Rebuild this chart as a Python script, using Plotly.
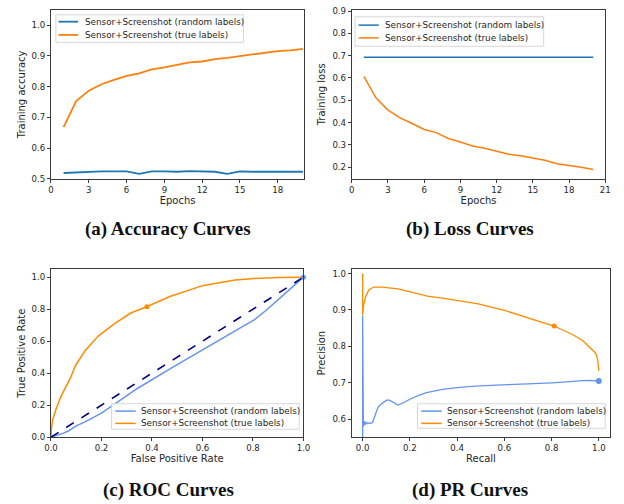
import plotly.graph_objects as go

# ---------------- data ----------------
epochs = list(range(1, 21))
acc_true = [0.668, 0.753, 0.787, 0.808, 0.822, 0.835, 0.843, 0.856, 0.863, 0.872,
            0.879, 0.882, 0.890, 0.894, 0.900, 0.904, 0.910, 0.916, 0.918, 0.923]
acc_rand = [0.519, 0.521, 0.523, 0.524, 0.524, 0.524, 0.516, 0.524, 0.524, 0.523,
            0.525, 0.525, 0.523, 0.516, 0.524, 0.523, 0.523, 0.524, 0.525, 0.523]
loss_true = [0.607, 0.511, 0.456, 0.421, 0.396, 0.369, 0.355, 0.329, 0.313, 0.295,
             0.285, 0.273, 0.258, 0.251, 0.240, 0.231, 0.216, 0.209, 0.200, 0.190]
loss_rand = [0.693, 0.693, 0.693, 0.693, 0.693, 0.693, 0.693, 0.693, 0.693, 0.693,
             0.693, 0.693, 0.693, 0.693, 0.693, 0.693, 0.693, 0.693, 0.693, 0.693]

roc_true_fpr = [0, 0.002, 0.007, 0.019, 0.039, 0.058, 0.077, 0.097, 0.135, 0.187, 0.252,
                0.316, 0.381, 0.471, 0.6, 0.729, 0.806, 0.9, 1.0]
roc_true_tpr = [0, 0.06, 0.109, 0.171, 0.253, 0.314, 0.37, 0.448, 0.54, 0.632, 0.71,
                0.776, 0.817, 0.879, 0.947, 0.982, 0.992, 0.998, 1.0]
roc_rand_fpr = [0, 0.02, 0.05, 0.07, 0.1, 0.135, 0.2, 0.25, 0.342, 0.471, 0.6, 0.729,
                0.806, 0.85, 0.897, 0.95, 1.0]
roc_rand_tpr = [0, 0.01, 0.025, 0.04, 0.07, 0.095, 0.15, 0.205, 0.304, 0.427, 0.544,
                0.663, 0.735, 0.79, 0.858, 0.93, 1.0]
roc_true_pt = (0.38, 0.815)
roc_rand_pt = (1.0, 1.0)
chance = [0, 1]

pr_true_rec = [0, 0, 0.003, 0.012, 0.026, 0.047, 0.081, 0.15, 0.219, 0.274, 0.33, 0.407,
               0.49, 0.6, 0.683, 0.76, 0.811, 0.89, 0.93, 0.959, 0.986, 0.995, 1.0]
pr_true_prec = [1.0, 0.886, 0.91, 0.935, 0.955, 0.963, 0.963, 0.958, 0.946, 0.938, 0.933,
                0.926, 0.917, 0.899, 0.881, 0.866, 0.856, 0.832, 0.817, 0.800, 0.782,
                0.765, 0.733]
pr_rand_rec = [0, 0, 0.001, 0.002, 0.003, 0.006, 0.01, 0.015, 0.02, 0.028, 0.035, 0.042,
               0.048, 0.055, 0.065, 0.075, 0.09, 0.103, 0.115, 0.13, 0.15, 0.175, 0.2,
               0.235, 0.27, 0.338, 0.4, 0.476, 0.55, 0.614, 0.7, 0.752, 0.8, 0.85, 0.89,
               0.93, 0.96, 0.985, 1.0]
pr_rand_prec = [0.5, 0.885, 0.60, 0.67, 0.58, 0.595, 0.585, 0.592, 0.588, 0.59, 0.589,
                0.591, 0.60, 0.615, 0.633, 0.64, 0.647, 0.653, 0.652, 0.647, 0.639, 0.646,
                0.655, 0.665, 0.673, 0.682, 0.687, 0.691, 0.694, 0.695, 0.697, 0.698,
                0.700, 0.702, 0.703, 0.706, 0.707, 0.706, 0.705]
pr_true_pt = (0.811, 0.856)
pr_rand_pt = (1.0, 0.705)

name_rand = "Sensor+Screenshot (random labels)"
name_true = "Sensor+Screenshot (true labels)"
captions = ["(a) Accuracy Curves", "(b) Loss Curves", "(c) ROC Curves", "(d) PR Curves"]

# ---------------- style ----------------
W, H = 624, 504
TAB_BLUE, TAB_ORANGE = "#1f77b4", "#ff7f0e"
CB, DO = "#6495ED", "#FF8C00"
TICKF = dict(family="DejaVu Sans", size=8.6, color="#262626")
LABF = dict(family="DejaVu Sans", size=10, color="#262626")
LEGF = dict(family="DejaVu Sans", size=8.8, color="#262626")

def px2x(a, b):
    return [a / W, b / W]

def px2y(top, bottom):
    return [1 - bottom / H, 1 - top / H]

fig = go.Figure()

# (a)
fig.add_trace(go.Scatter(x=epochs, y=acc_rand, mode="lines", name=name_rand,
                         line=dict(color=TAB_BLUE, width=1.8), xaxis="x", yaxis="y"))
fig.add_trace(go.Scatter(x=epochs, y=acc_true, mode="lines", name=name_true,
                         line=dict(color=TAB_ORANGE, width=1.8), xaxis="x", yaxis="y"))
# (b)
fig.add_trace(go.Scatter(x=epochs, y=loss_rand, mode="lines", name=name_rand,
                         line=dict(color=TAB_BLUE, width=1.5), xaxis="x2", yaxis="y2"))
fig.add_trace(go.Scatter(x=epochs, y=loss_true, mode="lines", name=name_true,
                         line=dict(color=TAB_ORANGE, width=1.5), xaxis="x2", yaxis="y2"))
# (c)
fig.add_trace(go.Scatter(x=roc_rand_fpr, y=roc_rand_tpr, mode="lines", name=name_rand,
                         line=dict(color=CB, width=1.5), xaxis="x3", yaxis="y3"))
fig.add_trace(go.Scatter(x=roc_true_fpr, y=roc_true_tpr, mode="lines", name=name_true,
                         line=dict(color=DO, width=1.5), xaxis="x3", yaxis="y3"))
fig.add_trace(go.Scatter(x=chance, y=chance, mode="lines", name="chance",
                         line=dict(color="navy", width=1.6, dash="dash"), xaxis="x3", yaxis="y3"))
fig.add_trace(go.Scatter(x=[roc_rand_pt[0]], y=[roc_rand_pt[1]], mode="markers", name="threshold (random)",
                         marker=dict(color=CB, size=5), xaxis="x3", yaxis="y3", cliponaxis=False))
fig.add_trace(go.Scatter(x=[roc_true_pt[0]], y=[roc_true_pt[1]], mode="markers", name="threshold (true)",
                         marker=dict(color=DO, size=5), xaxis="x3", yaxis="y3"))
# (d)
fig.add_trace(go.Scatter(x=pr_rand_rec, y=pr_rand_prec, mode="lines", name=name_rand,
                         line=dict(color=CB, width=1.3), xaxis="x4", yaxis="y4"))
fig.add_trace(go.Scatter(x=pr_true_rec, y=pr_true_prec, mode="lines", name=name_true,
                         line=dict(color=DO, width=1.3), xaxis="x4", yaxis="y4"))
fig.add_trace(go.Scatter(x=[pr_rand_pt[0]], y=[pr_rand_pt[1]], mode="markers", name="threshold (random)",
                         marker=dict(color=CB, size=6), xaxis="x4", yaxis="y4", cliponaxis=False))
fig.add_trace(go.Scatter(x=[pr_true_pt[0]], y=[pr_true_pt[1]], mode="markers", name="threshold (true)",
                         marker=dict(color=DO, size=5), xaxis="x4", yaxis="y4"))

def ax(domain, rng, tickvals, ticktext, title, anchor, standoff):
    return dict(domain=domain, range=rng, tickvals=tickvals, ticktext=ticktext,
                showgrid=False, zeroline=False, showline=True, mirror=True,
                linecolor="#3a3a3a", linewidth=1, ticks="outside", ticklen=3,
                tickcolor="#3a3a3a", tickfont=TICKF, anchor=anchor,
                title=dict(text=title, font=LABF, standoff=standoff))

xa = px2x(45, 304); xb = px2x(352.7, 612); xc = px2x(45, 303.3); xd = px2x(352.7, 617)
yab = px2y(6, 178); ycd = px2y(270, 441)

e_ticks = [0, 3, 6, 9, 12, 15, 18]
fig.update_layout(
    xaxis=ax(xa, [0, 20.1], e_ticks, [str(v) for v in e_ticks], "Epochs", "y", 2),
    yaxis=ax(yab, [0.5, 1.05], [0.5, 0.6, 0.7, 0.8, 0.9, 1.0],
             ["0.5", "0.6", "0.7", "0.8", "0.9", "1.0"], "Training accuracy", "x", 4),
    xaxis2=ax(xb, [0, 21], e_ticks + [21], [str(v) for v in e_ticks + [21]], "Epochs", "y2", 2),
    yaxis2=ax(yab, [0.148, 0.905], [0.2, 0.3, 0.4, 0.5, 0.6, 0.7, 0.8, 0.9],
              ["0.2", "0.3", "0.4", "0.5", "0.6", "0.7", "0.8", "0.9"], "Training loss", "x2", 4),
    xaxis3=ax(xc, [0, 1], [0, 0.2, 0.4, 0.6, 0.8, 1.0],
              ["0.0", "0.2", "0.4", "0.6", "0.8", "1.0"], "False Positive Rate", "y3", 2),
    yaxis3=ax(ycd, [0, 1.05], [0, 0.2, 0.4, 0.6, 0.8, 1.0],
              ["0.0", "0.2", "0.4", "0.6", "0.8", "1.0"], "True Positive Rate", "x3", 4),
    xaxis4=ax(xd, [-0.046, 1.048], [0, 0.2, 0.4, 0.6, 0.8, 1.0],
              ["0.0", "0.2", "0.4", "0.6", "0.8", "1.0"], "Recall", "y4", 2),
    yaxis4=ax(ycd, [0.551, 1.012], [0.6, 0.7, 0.8, 0.9, 1.0],
              ["0.6", "0.7", "0.8", "0.9", "1.0"], "Precision", "x4", 4),
)

# compact matplotlib-style legends: (box x0, x1, y0, y1, sample x0, x1, text x, row y's, colours, width)
legends = [
    (50, 242, 11, 39, 52.7, 72.7, 77.5, (18, 31.5), (TAB_BLUE, TAB_ORANGE), 1.8),
    (356, 549, 13, 43, 359.7, 380.3, 384.5, (21.5, 34.5), (TAB_BLUE, TAB_ORANGE), 1.5),
    (107, 299, 407, 433, 110.7, 131.7, 135, (414.5, 427), (CB, DO), 1.5),
    (420, 612, 407, 432, 423.7, 444.7, 448.5, (414.5, 427), (CB, DO), 1.5),
]
for bx0, bx1, by0, by1, sx0, sx1, tx, rows, cols, lw in legends:
    fig.add_shape(type="rect", xref="paper", yref="paper",
                  x0=bx0 / W, x1=bx1 / W, y0=1 - by1 / H, y1=1 - by0 / H,
                  line=dict(color="#d6d6d6", width=1), fillcolor="rgba(255,255,255,0.85)", layer="above")
    for ry, col, label in zip(rows, cols, (name_rand, name_true)):
        fig.add_shape(type="line", xref="paper", yref="paper",
                      x0=sx0 / W, x1=sx1 / W, y0=1 - ry / H, y1=1 - ry / H,
                      line=dict(color=col, width=lw), layer="above")
        fig.add_annotation(text=label, x=tx / W, y=1 - ry / H, xref="paper", yref="paper",
                           showarrow=False, xanchor="left", yanchor="middle", font=LEGF)

cap_pos = [(165, 229), (474, 229), (165, 495), (474, 495)]
for txt, (cx, cy) in zip(captions, cap_pos):
    fig.add_annotation(text="<b>" + txt + "</b>", x=cx / W, y=1 - cy / H, xref="paper", yref="paper",
                       showarrow=False, xanchor="center", yanchor="middle",
                       font=dict(family="Liberation Serif", size=19, color="#111111"))

fig.update_layout(width=W, height=H, margin=dict(l=0, r=0, t=0, b=0),
                  paper_bgcolor="white", plot_bgcolor="white", showlegend=False)

fig.write_html("out.html")
